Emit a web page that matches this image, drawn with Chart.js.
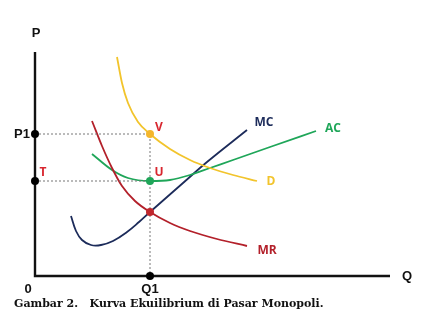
<!DOCTYPE html>
<html><head><meta charset="utf-8">
<script src="https://cdn.jsdelivr.net/npm/chart.js@4"></script>
<style>html,body{margin:0;padding:0;background:#fff;}canvas{display:block;}</style>
</head><body>
<canvas id="c" width="448" height="317"></canvas>
<script>
// Quantity / price values (arbitrary units, origin at axes)
const demandQ = [82, 87, 93, 103, 115, 135, 155, 175, 198, 222];
const demandP = [219, 193, 173, 154, 142, 127, 116, 108, 101, 95];
const mrQ = [57, 67, 77, 87, 100, 115, 135, 155, 182, 212];
const mrP = [155, 130, 108, 90, 75, 64, 53, 45, 37, 30];
const acQ = [57, 77, 93, 115, 135, 155, 175, 198, 235, 281];
const acP = [122, 106, 98, 95, 96, 101, 108, 116, 129, 145];
const mcQ = [36, 41, 47, 56, 66, 78, 92, 104, 115, 148, 172, 212];
const mcP = [60, 45, 36, 31, 31, 35, 44, 54, 64, 93, 114, 146];
const Q1 = 115, P1 = 142, T = 95, E = 64;
const axisMaxQ = 355, axisMaxP = 224;
const tickLabels = {P1: 'P1', T: 'T', Q1: 'Q1', zero: '0'};
const pointLabels = {V: 'V', U: 'U'};
const curveNames = {MC: 'MC', AC: 'AC', D: 'D', MR: 'MR'};
const axisTitles = {P: 'P', Q: 'Q'};
const caption = 'Gambar 2.   Kurva Ekuilibrium di Pasar Monopoli.';

const zip = (xs, ys) => xs.map((x, i) => ({x, y: ys[i]}));
const colors = {D: '#f2c42c', MR: '#b3202a', AC: '#1fa659', MC: '#1c2b5a', red: '#d8262f'};

const curve = (data, color, mono) => Object.assign({type: 'line', data, borderColor: color, borderWidth: 1.8,
  pointRadius: 0, fill: false, clip: false}, mono ? {cubicInterpolationMode: 'monotone'} : {tension: 0.4});

const labelsPlugin = {
  id: 'labels',
  afterDatasetsDraw(chart) {
    const {ctx, scales: {x, y}} = chart;
    ctx.save();
    // axes
    ctx.strokeStyle = '#111'; ctx.lineWidth = 2.4; ctx.lineCap = 'butt';
    ctx.beginPath();
    ctx.moveTo(x.getPixelForValue(0), y.getPixelForValue(axisMaxP));
    ctx.lineTo(x.getPixelForValue(0), y.getPixelForValue(0));
    ctx.lineTo(x.getPixelForValue(axisMaxQ), y.getPixelForValue(0));
    ctx.stroke();
    // axis dots
    ctx.fillStyle = '#000';
    [[0, P1], [0, T], [Q1, 0]].forEach(([q, p]) => {
      ctx.beginPath(); ctx.arc(x.getPixelForValue(q), y.getPixelForValue(p), 4, 0, Math.PI * 2); ctx.fill();
    });
    // equilibrium dots
    [[P1, '#f4b62c'], [T, '#1fa659'], [E, '#c0272d']].forEach(([p, c]) => {
      ctx.fillStyle = c;
      ctx.beginPath(); ctx.arc(x.getPixelForValue(Q1), y.getPixelForValue(p), 4, 0, Math.PI * 2); ctx.fill();
    });
    ctx.textBaseline = 'middle';
    // axis text
    ctx.fillStyle = '#111';
    ctx.font = 'bold 13px "Liberation Sans", Arial, sans-serif';
    ctx.textAlign = 'center';
    ctx.fillText(axisTitles.P, x.getPixelForValue(0) + 1, y.getPixelForValue(axisMaxP) - 19);
    ctx.fillText(axisTitles.Q, x.getPixelForValue(axisMaxQ) + 17, y.getPixelForValue(0));
    ctx.fillText(tickLabels.zero, x.getPixelForValue(0) - 7, y.getPixelForValue(0) + 13);
    ctx.fillText(tickLabels.Q1, x.getPixelForValue(Q1), y.getPixelForValue(0) + 13);
    ctx.textAlign = 'right';
    ctx.fillText(tickLabels.P1, x.getPixelForValue(0) - 5, y.getPixelForValue(P1));
    // red letter labels
    ctx.font = 'bold 12px "Open Sans", sans-serif';
    ctx.textAlign = 'center';
    ctx.fillStyle = colors.red;
    ctx.fillText(tickLabels.T, x.getPixelForValue(0) + 8, y.getPixelForValue(T) - 8);
    ctx.fillText(pointLabels.V, x.getPixelForValue(Q1) + 9, y.getPixelForValue(P1) - 6);
    ctx.fillText(pointLabels.U, x.getPixelForValue(Q1) + 9, y.getPixelForValue(T) - 8);
    // curve names
    const end = (qs, ps) => [x.getPixelForValue(qs[qs.length - 1]), y.getPixelForValue(ps[ps.length - 1])];
    let [ex, ey] = end(mcQ, mcP); ctx.fillStyle = colors.MC; ctx.fillText(curveNames.MC, ex + 17, ey - 7);
    [ex, ey] = end(acQ, acP); ctx.fillStyle = colors.AC; ctx.fillText(curveNames.AC, ex + 17, ey - 2);
    [ex, ey] = end(demandQ, demandP); ctx.fillStyle = colors.D; ctx.fillText(curveNames.D, ex + 14, ey + 1);
    [ex, ey] = end(mrQ, mrP); ctx.fillStyle = colors.MR; ctx.fillText(curveNames.MR, ex + 20, ey + 5);
    // caption
    ctx.fillStyle = '#111';
    ctx.textAlign = 'left';
    ctx.font = 'bold 11px "DejaVu Serif", serif';
    ctx.fillText(caption, 14, 304);
    ctx.restore();
  }
};

new Chart(document.getElementById('c'), {
  type: 'line',
  data: {
    datasets: [
      {type: 'line', data: [{x: 0, y: P1}, {x: Q1, y: P1}, {x: Q1, y: 0}], borderColor: '#777', borderWidth: 1,
        borderDash: [2, 2], pointRadius: 0, tension: 0, fill: false},
      {type: 'line', data: [{x: 0, y: T}, {x: Q1, y: T}], borderColor: '#777', borderWidth: 1,
        borderDash: [2, 2], pointRadius: 0, tension: 0, fill: false},
      curve(zip(demandQ, demandP), colors.D, true),
      curve(zip(mrQ, mrP), colors.MR, true),
      curve(zip(acQ, acP), colors.AC, true),
      curve(zip(mcQ, mcP), colors.MC, false)
    ]
  },
  options: {
    responsive: false, animation: false,
    layout: {padding: {left: 35, right: 58, top: 52, bottom: 41}},
    plugins: {legend: {display: false}, tooltip: {enabled: false}},
    scales: {
      x: {type: 'linear', min: 0, max: axisMaxQ, display: false},
      y: {type: 'linear', min: 0, max: axisMaxP, display: false}
    }
  },
  plugins: [labelsPlugin]
});
</script>
</body></html>
